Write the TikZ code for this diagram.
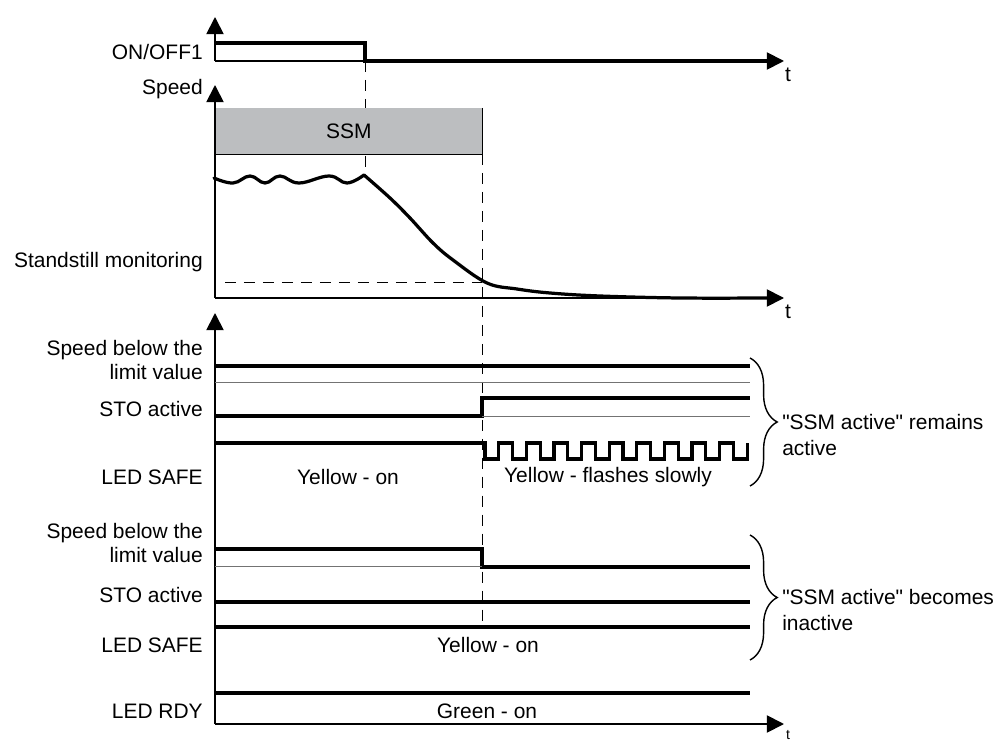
\documentclass[tikz,border=0pt]{standalone}
\usepackage{fontspec}
\setmainfont{Liberation Sans}
\usetikzlibrary{arrows.meta, decorations.pathreplacing, positioning}
\definecolor{ssmgray}{RGB}{188,190,192}

\begin{document}
\begin{tikzpicture}[x=0.025cm, y=-0.025cm,
    every node/.style={font=\fontsize{14.9}{17.7}\selectfont, inner sep=0pt},
    lbl/.style={anchor=east, align=right},
    axis/.style={line width=1.3pt, -{Triangle[length=0.43cm, width=0.43cm]}},
    sig/.style={line width=2.3pt},
    ref/.style={line width=0.6pt, black!55},
    guide/.style={line width=0.6pt, dash pattern=on 8pt off 5.5pt},
    grp/.style={decorate, decoration={brace, amplitude=0.68cm}, line width=1pt}]
    \useasboundingbox (0,0) rectangle (1000,741);

    % ON/OFF1
    \node[lbl] (onoff) at (203,52) {ON/OFF1};
    \draw[axis] (215,61) -- (215,17);
    \draw[axis] (215,61) -- (784,61);
    \draw[sig] (214,43) -- (365,43) -- (365,61) -- (768,61);
    \node (t1) at (788,75) {t};

    % speed
    \draw[guide] (365,61) -- (365,175);
    \draw[guide] (482,154) -- (482,627);
    \draw[guide] (225,282) -- (482,282);
    \node[fill=ssmgray, anchor=north west, minimum width=6.675cm, minimum height=1.15cm] (ssm) at (215,108) {SSM};
    \draw[line width=1pt] (ssm.north east) -- (ssm.south east) -- (ssm.south west);
    \node[lbl] (speed) at (203,89) {Speed};
    \node[lbl] (standstill) at (203,262) {Standstill monitoring};
    \draw[axis] (215,298) -- (215,85);
    \draw[axis] (215,298) -- (784,298);
    \node (t2) at (788,312) {t};
    \draw[sig, line cap=round, line join=round] plot[smooth, tension=0.7] coordinates {(214,178) (233,183) (250,176) (265,183) (280,176) (299,183) (329,176) (347,183) (364,175)};
    \draw[sig, line cap=round, line join=round] plot[smooth, tension=0.6] coordinates {(364,175) (390,198) (410,218) (433,243) (453,260) (487,283) (517,289) (550,293) (600,296) (680,298) (768,298)};

    % signals
    \draw[axis] (215,724) -- (215,313);
    \draw[axis] (215,724) -- (784,724);
    \node[font=\fontsize{10}{12}\selectfont] (t3) at (788,735) {t};

    \node[lbl] (below1) at (203,360) {Speed below the\\limit value};
    \node[lbl] (sto1) at (203,409) {STO active};
    \node[lbl] (safe1) at (203,477) {LED SAFE};
    \draw[sig] (214,366) -- (750,366);
    \draw[ref] (215,382) -- (750,382);
    \draw[sig] (214,416) -- (482,416) -- (482,398) -- (750,398);
    \draw[ref] (482,416) -- (750,416);
    \draw[sig] (214,443) -- (485,443) -- (485,459)
        foreach \i in {1,...,9} { -- ++(13.8,0) -- ++(0,-16) -- ++(13.8,0) -- ++(0,16) }
        -- ++(13.8,0) -- ++(0,-16);
    \node (yon1) at (348,477) {Yellow - on};
    \node (yflash) at (608,477) {Yellow - flashes slowly};
    \draw[grp] (750,358) -- (750,486);
    \node[anchor=west, align=left, font=\fontsize{14.9}{19}\selectfont] (remains) at (782,435) {\textquotedbl SSM active\textquotedbl{} remains\\active};

    \node[lbl] (below2) at (203,543) {Speed below the\\limit value};
    \node[lbl] (sto2) at (203,595) {STO active};
    \node[lbl] (safe2) at (203,645) {LED SAFE};
    \node[lbl] (rdy) at (203,711) {LED RDY};
    \draw[sig] (214,549) -- (482,549) -- (482,567) -- (750,567);
    \draw[ref] (215,566) -- (482,566);
    \draw[sig] (214,602) -- (750,602);
    \draw[sig] (214,627) -- (750,627);
    \draw[sig] (214,693) -- (750,693);
    \node (yon2) at (488,645) {Yellow - on};
    \node (gon) at (487,711) {Green - on};
    \draw[grp] (750,535) -- (750,660);
    \node[anchor=west, align=left, font=\fontsize{14.9}{19}\selectfont] (becomes) at (782,610) {\textquotedbl SSM active\textquotedbl{} becomes\\inactive};
\end{tikzpicture}
\end{document}
